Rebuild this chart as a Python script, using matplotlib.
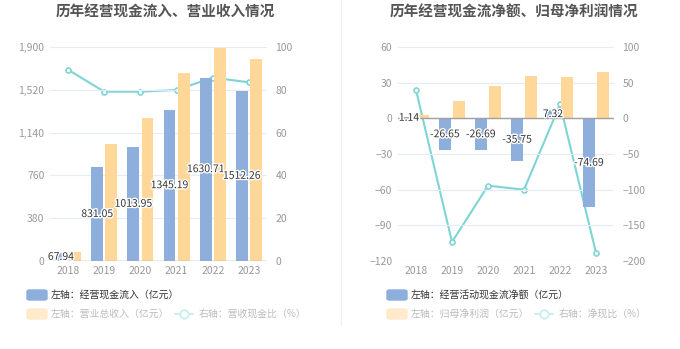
import matplotlib
matplotlib.use("Agg")
import matplotlib.pyplot as plt
import matplotlib.patheffects as pe
from matplotlib.patches import FancyBboxPatch
from matplotlib.lines import Line2D
from matplotlib.ticker import FuncFormatter
import numpy as np

plt.rcParams['font.family'] = ['Noto Sans CJK SC', 'DejaVu Sans']

# data
years = ['2018', '2019', '2020', '2021', '2022', '2023']
cash_in = [67.94, 831.05, 1013.95, 1345.19, 1630.71, 1512.26]
revenue = [76, 1039, 1271, 1674, 1891, 1799]
cash_rev_ratio = [89.5, 79.2, 79.2, 80.0, 85.8, 83.6]

op_cash_net = [1.14, -26.65, -26.69, -35.75, 7.32, -74.69]
net_profit = [2.85, 14.9, 27.6, 35.4, 35.1, 39.1]
net_cash_ratio = [40.0, -173.7, -94.5, -100.2, 19.8, -188.8]

BLUE = '#8eaedc'
ORANGE = '#ffd899'
TEAL = '#7fd4d4'
GRID = '#e6ebf5'
TICK = '#999999'

W, H = 680, 349
fig = plt.figure(figsize=(W / 100, H / 100), dpi=100)


def px_axes(x0, y0, x1, y1):
    return fig.add_axes([x0 / W, 1 - y1 / H, (x1 - x0) / W, (y1 - y0) / H])


def draw_panel(ax, bars_a, bars_b, line, lticks, rticks, lfmt=None):
    x = np.arange(len(years))
    off = 0.195
    bw = 0.33
    ax.set_xlim(-0.5, len(years) - 0.5)
    ax.set_ylim(lticks[0], lticks[-1])
    ax.set_yticks(lticks)
    for y in lticks:
        ax.axhline(y, color=GRID, lw=0.8, zorder=0)
    ax.axhline(0, color='#a0a0a0', lw=1.0, zorder=3)
    ax.bar(x - off, bars_a, bw, color=BLUE, zorder=2)
    ax.bar(x + off, bars_b, bw, color=ORANGE, zorder=2)
    for xi, v in zip(x, bars_a):
        ax.text(xi - off, v / 2, f'{v:.2f}', ha='center', va='center',
                fontsize=7.5, color='#333333', zorder=6,
                path_effects=[pe.withStroke(linewidth=2, foreground='white')])
    ax.set_xticks(x)
    ax.set_xticklabels(years)
    for s in ax.spines.values():
        s.set_visible(False)
    ax.tick_params(axis='both', length=0, colors=TICK, labelsize=7.5)
    ax.tick_params(axis='y', pad=4)
    if lfmt:
        ax.yaxis.set_major_formatter(lfmt)

    ax2 = ax.twinx()
    ax2.set_ylim(rticks[0], rticks[-1])
    ax2.set_yticks(rticks)
    ax2.plot(x, line, color=TEAL, lw=1.5, marker='o', ms=3.6,
             mfc='white', mec=TEAL, mew=1.2, zorder=5)
    for s in ax2.spines.values():
        s.set_visible(False)
    ax2.tick_params(axis='y', length=0, colors=TICK, labelsize=7.5, pad=6)
    ax.set_zorder(ax2.get_zorder() + 1)
    ax.patch.set_visible(False)
    return ax2


ax1 = px_axes(50, 47.3, 267, 260.7)
draw_panel(ax1, cash_in, revenue, cash_rev_ratio,
           [0, 380, 760, 1140, 1520, 1900], [0, 20, 40, 60, 80, 100],
           FuncFormatter(lambda v, p: f'{v:,.0f}'))

ax3 = px_axes(398, 47.3, 614, 260.7)
draw_panel(ax3, op_cash_net, net_profit, net_cash_ratio,
           [-120, -90, -60, -30, 0, 30, 60], [-200, -150, -100, -50, 0, 50, 100])

# titles
fig.text(165 / W, 1 - 12 / H, '历年经营现金流入、营业收入情况', ha='center', va='center',
         fontsize=10.5, fontweight='bold', color='#555555')
fig.text(514 / W, 1 - 12 / H, '历年经营现金流净额、归母净利润情况', ha='center', va='center',
         fontsize=10.5, fontweight='bold', color='#555555')

# separator
fig.add_artist(Line2D([341 / W, 341 / W], [1 - 325 / H, 1], color='#f0f0f0', lw=1))


def legend_patch(x, y, color, label, tcolor):
    fig.add_artist(FancyBboxPatch((x / W, 1 - (y + 5) / H), 20 / W, 10 / H,
                                  boxstyle='round,pad=0,rounding_size=0.004',
                                  color=color, transform=fig.transFigure))
    fig.text((x + 24) / W, 1 - y / H, label, ha='left', va='center',
             fontsize=7.1, color=tcolor)


def legend_line(x, y, label):
    fig.add_artist(Line2D([x / W, (x + 18) / W], [1 - y / H, 1 - y / H],
                          color='#c6eded', lw=1.3, marker=None))
    fig.add_artist(Line2D([(x + 9) / W], [1 - y / H], color='#c6eded', marker='o',
                          ms=6, mfc='white', mec='#c6eded', mew=1.2))
    fig.text((x + 24) / W, 1 - y / H, label, ha='left', va='center',
             fontsize=7.1, color='#bbbbbb')


legend_patch(27, 295, BLUE, '左轴：经营现金流入（亿元）', '#333333')
legend_patch(27, 314, '#ffeacb', '左轴：营业总收入（亿元）', '#bbbbbb')
legend_line(175, 314, '右轴：营收现金比（%）')

legend_patch(387, 295, BLUE, '左轴：经营活动现金流净额（亿元）', '#333333')
legend_patch(387, 314, '#ffeacb', '左轴：归母净利润（亿元）', '#bbbbbb')
legend_line(535, 314, '右轴：净现比（%）')

fig.savefig('out.png', dpi=100, facecolor='white')
